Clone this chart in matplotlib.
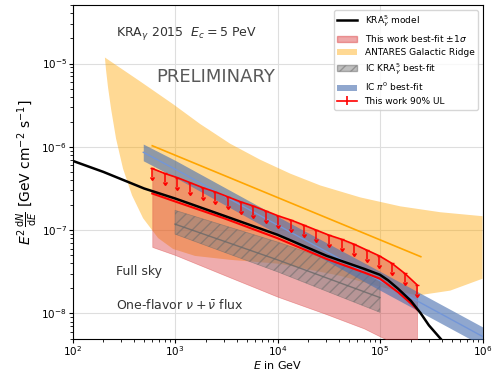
import numpy as np
import matplotlib
matplotlib.use("Agg")
import matplotlib.pyplot as plt
from matplotlib.lines import Line2D
from matplotlib.patches import Patch
from matplotlib.collections import LineCollection
from matplotlib.container import ErrorbarContainer

# KRA_gamma model (E in GeV, E^2 dN/dE in GeV cm^-2 s^-1)
E_kra = [100, 200, 500, 1e3, 3e3, 1e4, 3e4, 7e4, 1e5, 1.2e5, 1.5e5, 2e5, 2.5e5, 3e5, 4e5]
F_kra = [6.8e-7, 5.0e-7, 3.16e-7, 2.4e-7, 1.49e-7, 8.8e-8, 4.93e-8, 3.43e-8, 2.91e-8, 2.5e-8,
         1.98e-8, 1.42e-8, 1.0e-8, 7.2e-9, 4.8e-9]

# ANTARES Galactic Ridge band
E_ant_hi = [207, 457, 958, 1758, 3451, 6776, 13300, 26100, 64300, 157800, 388000, 1e6]
F_ant_hi = [1.18e-5, 6.1e-6, 3.25e-6, 1.88e-6, 1.09e-6, 7.0e-7, 4.77e-7, 3.44e-7, 2.47e-7,
            1.93e-7, 1.64e-7, 1.47e-7]
E_ant_lo = [207, 212, 222, 238, 266, 311, 381, 488, 684, 958, 1570, 3451, 10600, 40900,
            1e5, 2.31e5, 4.85e5, 1e6]
F_ant_lo = [1.18e-5, 8.5e-6, 5.18e-6, 2.83e-6, 1.25e-6, 5.47e-7, 2.61e-7, 1.39e-7, 8.03e-8,
            5.94e-8, 4.9e-8, 4.4e-8, 3.94e-8, 2.83e-8, 2.09e-8, 1.64e-8, 1.88e-8, 2.61e-8]
E_ant_c = [600, 2.5e5]
F_ant_c = [1.03e-6, 4.8e-8]

# IC pi0 best-fit
E_pi0 = [490, 1e3, 1e4, 1e5, 1e6]
F_pi0 = [8.6e-7, 5.4e-7, 1.15e-7, 2.47e-8, 5.3e-9]
F_pi0_hi = [1.08e-6, 6.9e-7, 1.46e-7, 3.2e-8, 6.9e-9]
F_pi0_lo = [6.8e-7, 4.3e-7, 9.0e-8, 1.9e-8, 4.1e-9]

# IC KRA_gamma best-fit
E_ic = [1e3, 1e4, 1e5]
F_ic = [1.18e-7, 4.4e-8, 1.55e-8]
F_ic_hi = [1.73e-7, 7.2e-8, 2.69e-8]
F_ic_lo = [8.95e-8, 3.16e-8, 1.03e-8]

# This work: best fit and lower 1 sigma edge
E_fit = [600, 1e3, 3e3, 1e4, 3e4, 7e4, 1e5, 1.5e5, 2e5, 2.3e5]
F_fit = [2.75e-7, 2.21e-7, 1.39e-7, 8.0e-8, 4.52e-8, 3.1e-8, 2.61e-8, 1.8e-8, 1.32e-8, 1.12e-8]
F_fit_lo = [6.28e-8, 5.04e-8, 2.9e-8, 1.59e-8, 9.8e-9, 6.6e-9, 5.3e-9, 4.2e-9, 3.5e-9, 3.16e-9]

# This work 90% upper limits
E_ul = [597, 793, 1052, 1400, 1858, 2466, 3281, 4355, 5781, 7691, 10210, 13550, 18030,
        23930, 31770, 42270, 56100, 74470, 98850, 131200, 174600, 231200]
F_ul = [5.50e-7, 4.79e-7, 4.27e-7, 3.72e-7, 3.24e-7, 2.88e-7, 2.51e-7, 2.19e-7, 1.95e-7,
        1.70e-7, 1.48e-7, 1.32e-7, 1.15e-7, 1.0e-7, 8.71e-8, 7.76e-8, 6.76e-8, 5.75e-8,
        4.90e-8, 3.98e-8, 3.02e-8, 2.19e-8]

fig = plt.figure(figsize=(4.92, 3.72), dpi=100)
ax = fig.add_axes([0.1474, 0.09, 0.8333, 0.8958])
ax.set_xscale('log')
ax.set_yscale('log')

# ANTARES
ax.fill(np.concatenate([E_ant_hi, E_ant_lo[::-1]]), np.concatenate([F_ant_hi, F_ant_lo[::-1]]),
        color='orange', alpha=0.42, lw=0, zorder=1)
ax.plot(E_ant_c, F_ant_c, color='orange', lw=1.2, zorder=2)

# this work band (upper edge follows the UL curve)
F_ul_on_fit = np.interp(np.log10(E_fit), np.log10(E_ul), np.log10(F_ul))
ax.fill_between(E_fit, F_fit_lo, 10**F_ul_on_fit, color='tab:red', alpha=0.38, lw=0.5, zorder=3)

# IC KRA hatched
ax.fill_between(E_ic, F_ic_lo, F_ic_hi, facecolor='gray', edgecolor='dimgray', alpha=0.5,
                hatch='///', lw=0.5, zorder=4)
ax.plot(E_ic, F_ic, color='dimgray', lw=1, alpha=0.8, zorder=4)

# IC pi0
ax.fill_between(E_pi0, F_pi0_lo, F_pi0_hi, color='#4c72b0', alpha=0.62, lw=0, zorder=5)
ax.plot(E_pi0, F_pi0, color='#7396d8', lw=1, zorder=5)

# model + fit
ax.plot(E_fit, F_fit, color='red', lw=1.5, zorder=6)
ax.plot(E_kra, F_kra, color='k', lw=1.8, zorder=7)

# upper limits
ax.errorbar(E_ul, F_ul, yerr=np.array(F_ul) * 0.22, uplims=True, fmt='-', color='red',
            lw=1.2, elinewidth=1.1, capsize=1.6, zorder=8)

ax.set_xlim(1e2, 1e6)
ax.set_ylim(5e-9, 5e-5)
ax.grid(True, which='major', color='0.87', lw=0.8)
ax.set_axisbelow(True)
ax.tick_params(labelsize=7.5, pad=1)
ax.tick_params(which='major', length=3)
ax.set_xlabel('$E$ in GeV', fontsize=8)
ax.xaxis.set_label_coords(0.5, -0.062)
ax.set_ylabel(r'$E^2\,\frac{\mathrm{d}N}{\mathrm{d}E}$ [GeV cm$^{-2}$ s$^{-1}$]', fontsize=10,
              labelpad=2)

ax.text(0.105, 0.915, r'KRA$_\gamma$ 2015  $E_c = 5$ PeV', transform=ax.transAxes, fontsize=9,
        color='0.2', va='center')
ax.text(0.205, 0.785, 'PRELIMINARY', transform=ax.transAxes, fontsize=13, color='0.35', va='center')
ax.text(0.105, 0.2, 'Full sky', transform=ax.transAxes, fontsize=9, color='0.2', va='center')
ax.text(0.105, 0.1, r'One-flavor $\nu + \bar{\nu}$ flux', transform=ax.transAxes, fontsize=9,
        color='0.2', va='center')

# legend
h_kra = Line2D([], [], color='k', lw=1.8)
h_fit = Patch(facecolor='tab:red', edgecolor='tab:red', alpha=0.4)
h_ant = Patch(facecolor='orange', alpha=0.42)
h_ic = Patch(facecolor='gray', edgecolor='dimgray', alpha=0.5, hatch='///')
h_pi0 = Patch(facecolor='#4c72b0', alpha=0.62)
l_ul = Line2D([], [], color='red', lw=1.2)
b_ul = LineCollection([], color='red', lw=1.2)
h_ul = ErrorbarContainer((l_ul, (), (b_ul,)), has_xerr=False, has_yerr=True)
ax.legend([h_kra, h_fit, h_ant, h_ic, h_pi0, h_ul],
          [r'KRA$_\gamma^5$ model', r'This work best-fit $\pm 1\sigma$', 'ANTARES Galactic Ridge',
           r'IC KRA$_\gamma^5$ best-fit', r'IC $\pi^0$ best-fit', 'This work 90% UL'],
          loc='upper right', fontsize=6.5, handlelength=2.2, labelspacing=0.45, borderaxespad=0.5)

fig.savefig('out.png', dpi=100)
